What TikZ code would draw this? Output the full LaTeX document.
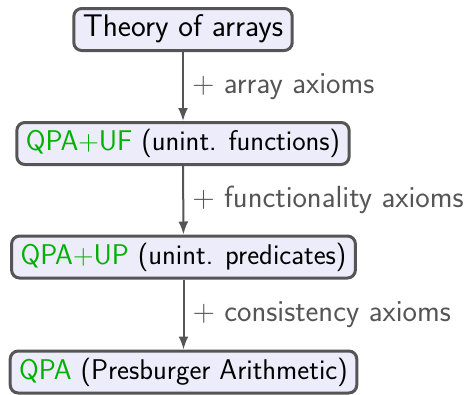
\RequirePackage{fix-cm}
\documentclass[tikz,border=0pt]{standalone}
\usetikzlibrary{arrows.meta}
\renewcommand{\familydefault}{\sfdefault}
\definecolor{boxfill}{RGB}{236,236,250}
\definecolor{boxline}{RGB}{85,85,85}
\definecolor{qgreen}{RGB}{0,176,0}
\definecolor{lblgray}{RGB}{85,85,85}
\tikzset{
  thbox/.style={draw=boxline, fill=boxfill, line width=3pt, rounded corners=8pt,
    inner xsep=9pt, inner ysep=0pt, minimum height=42pt,
    text height=21pt, text depth=7pt, font=\fontsize{28.5}{34}\selectfont},
  conn/.style={draw=boxline, line width=2pt, -{Latex[length=13pt,width=10pt]}},
  lbl/.style={text=lblgray, font=\fontsize{30.6}{37}\selectfont, anchor=west, xshift=5pt}
}
\begin{document}
\begin{tikzpicture}[x=1pt,y=-1pt]
\useasboundingbox (0,0) rectangle (473,394);
\node[thbox, font=\fontsize{31.3}{38}\selectfont] (a) at (183,29.5) {Theory of arrays};
\node[thbox] (b) at (183,143.5) {\textcolor{qgreen}{QPA$+$UF} (unint. functions)};
\node[thbox] (c) at (183.5,257) {\textcolor{qgreen}{QPA$+$UP} (unint. predicates)};
\node[thbox] (d) at (183.5,372) {\textcolor{qgreen}{QPA} (Presburger Arithmetic)};
\draw[conn] (a) -- node[lbl] {$+$ array axioms} (b);
\draw[conn] (b) -- node[lbl] {$+$ functionality axioms} (c);
\draw[conn] (c) -- node[lbl] {$+$ consistency axioms} (d);
\end{tikzpicture}
\end{document}
